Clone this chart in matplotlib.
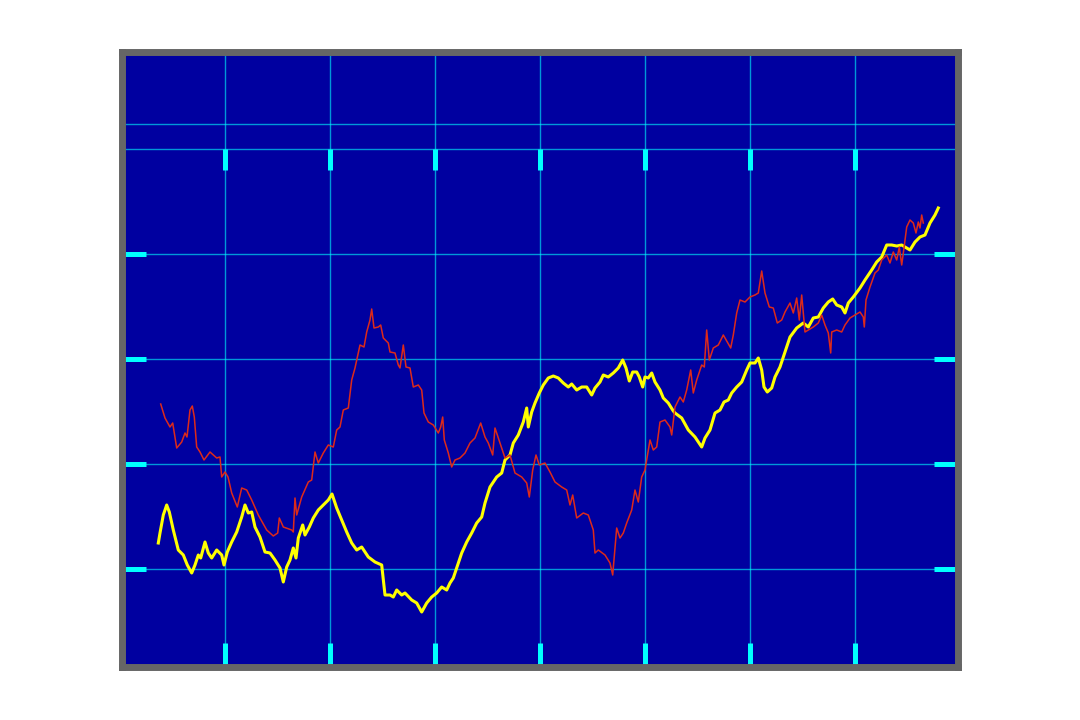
import matplotlib
matplotlib.use("Agg")
import matplotlib.pyplot as plt

# sample index / level, arbitrary units (one grid division = 105)
red_x = [40.7, 45, 50, 52.7, 56.7, 61.7, 65, 67, 70, 72.3, 74.3, 76.7, 80, 84, 90, 96.7,
         100, 101.7, 105, 108, 111.7, 117.3, 121.7, 126.7, 131.7, 138.3, 146.7, 153.3,
         157.7, 159.3, 163.3, 171.7, 173.3, 175, 176.7, 181.7, 188.3, 191.7, 195, 198.3,
         203.3, 208.3, 213.3, 216.7, 220, 223.3, 228.3, 231.7, 235, 236.7, 240, 244,
         246.7, 250, 251.7, 254, 258.3, 260.7, 263.3, 268.3, 270, 275, 278.3, 280, 283.3,
         286, 290, 293.3, 298.3, 301.7, 304, 308.3, 313.3, 318.3, 320.7, 322.7, 324.3,
         328.3, 331.7, 335, 340, 345, 350, 355, 360.7, 365, 368.3, 372.7, 375, 380, 385,
         390, 395, 401.7, 406.7, 409.3, 412.7, 416, 419.3, 425, 430, 435, 441.7, 446.7,
         450, 452.7, 456.7, 463.3, 468.3, 473.3, 475, 478.3, 485, 490, 492.7, 496.7, 500,
         503.3, 506.7, 511.7, 515, 518.3, 521.7, 525, 528.3, 530, 533.3, 536.7, 540, 545,
         550, 551.7, 555, 560, 563.3, 566.7, 570.7, 573.3, 576.7, 581.7, 584.3, 586.7,
         589.3, 593.3, 598.3, 603.3, 607.3, 610.7, 613.3, 616.7, 620, 625, 630, 635,
         638.3, 641.7, 645, 649.3, 653.3, 657.3, 661.7, 665, 670, 673.3, 676.7, 679.3,
         681.7, 685, 688.3, 693.3, 698.3, 701.7, 705, 708.3, 710.7, 711.7, 716.7, 721.7,
         725, 730, 735, 740, 743.3, 744.3, 746, 750, 755, 758.3, 761.7, 766.7, 770, 773.3,
         776.7, 779.3, 781.7, 784, 786.7, 790, 793.3, 796, 798.3, 800, 801.7, 803.3]
red_y = [165, 151, 142, 146, 121, 127, 136, 132, 159, 163, 152, 122, 117, 109, 117, 111,
         112, 92, 97, 92, 76, 62, 81, 79, 69, 54, 39, 33,
         36, 51, 42, 39, 37, 71, 54, 72, 87, 89, 117, 106,
         116, 124, 122, 139, 142, 159, 161, 189, 201, 209, 224, 222,
         237, 249, 260, 241, 242, 244, 231, 226, 217, 216, 204, 201, 224,
         202, 201, 182, 184, 179, 156, 147, 144, 136, 142, 152, 129,
         116, 102, 109, 111, 116, 126, 131, 146, 132, 126, 114, 141, 126, 111,
         114, 96, 92, 86, 72, 99, 114, 104, 106, 97, 87, 82, 79,
         64, 74, 51, 56, 54, 39, 16, 19, 14, 6, -6, 41, 31,
         36, 46, 59, 79, 67, 92, 99, 119, 129, 119, 122, 147, 149,
         142, 134, 162, 172, 167, 179, 199, 176, 189, 204, 202, 239,
         209, 221, 224, 234, 227, 221, 234, 256, 269, 267, 272, 274,
         276, 298, 276, 262, 261, 246, 249, 257, 266, 256, 271, 249,
         274, 237, 239, 242, 246, 254, 244, 236, 216, 237, 239, 237,
         244, 251, 254, 257, 252, 242, 269, 282, 296, 299, 309, 314, 306, 317,
         309, 322, 304, 321, 342, 349, 346, 336, 347, 341, 354, 346]

yellow_x = [38.3, 40, 43.3, 46.7, 49.3, 53.3, 58.3, 63.3, 67.3, 71.7, 75, 78.3, 80.7, 85,
            88.3, 91.7, 96.7, 101.7, 104, 107.3, 111.7, 116.7, 121.7, 125, 128.3, 131.7,
            135, 140, 145, 150, 155, 160, 163.3, 166.7, 170, 173.3, 176, 178.3, 182.7, 185,
            189.3, 193.3, 198.3, 203.3, 208.3, 212, 216.7, 221.7, 226.7, 231.7, 236.7,
            241.7, 248.3, 255, 261.7, 265, 270, 273.3, 276.7, 281.7, 285, 291.7, 296.7,
            301.7, 306.7, 311.7, 316.7, 321.7, 326.7, 330, 333.3, 336.7, 341.7, 346.7,
            351.7, 356.7, 361.7, 365, 370, 376.7, 381.7, 385, 390, 393.3, 398.3, 403.3,
            406.7, 408.3, 411.7, 415, 419.3, 423.3, 428.3, 433.3, 438.3, 443.3, 448.3,
            451.7, 456.7, 461.7, 466.7, 471.7, 475, 480, 483.3, 488.3, 493.3, 498.3, 502.7,
            506, 509.3, 512.7, 516.7, 519.3, 522.7, 525, 528.3, 531.7, 535, 540, 543.3,
            548.3, 553.3, 555, 561.7, 568.3, 575, 581.7, 585, 590, 595, 600, 604, 608.3,
            611.7, 616.7, 621.7, 626.7, 630, 635, 638.3, 641.7, 644, 647.3, 651.7, 655, 660,
            663.3, 666.7, 670, 676.7, 683.3, 688.3, 693.3, 698.3, 703.3, 708.3, 712.7,
            716.7, 721.7, 725, 728.3, 733.3, 740, 745, 751.7, 756.7, 761.7, 766.7, 771.7,
            776.7, 781.7, 786.7, 790, 795, 800, 805, 810, 815, 818.3]
yellow_y = [26, 36, 54, 64, 57, 39, 19, 14, 4, -4, 4, 14, 11, 27,
            16, 11, 19, 14, 4, 17, 27, 37, 52, 64, 56, 57,
            42, 32, 17, 16, 9, 1, -13, 2, 9, 21, 11, 31, 44, 34,
            42, 51, 59, 64, 69, 75, 61, 49, 37, 26, 19,
            22, 12, 7, 4, -26, -26, -28, -21, -26, -24, -31, -34,
            -43, -34, -28, -24, -18, -21, -14, -9, 1, 16, 27,
            36, 46, 52, 66, 82, 92, 96, 109, 114, 126, 134, 147,
            161, 142, 157, 166, 176, 184, 191, 193, 191, 186, 182,
            185, 179, 182, 182, 174, 181, 187, 194, 192, 196, 201, 209,
            201, 188, 197, 197, 192, 182, 192, 191, 196, 187, 179, 171,
            166, 158, 156, 151, 139, 132, 122, 131, 139, 156, 159, 167, 169,
            176, 182, 187, 199, 206, 206, 211, 199, 182, 177, 181, 192, 202,
            212, 222, 232, 241, 246, 242, 251, 252, 261, 267, 270,
            264, 262, 256, 266, 272, 281, 289, 299, 307, 312, 324, 324,
            323, 324, 321, 319, 327, 332, 334, 346, 354, 361]

x_ticks = [105, 210, 315, 420, 525, 630, 735]
y_ticks = [0, 105, 210, 315]
top_level = 420
marker_level = 445.5

bg = "#0000a0"
tick_col = "#00ffff"

fig = plt.figure(figsize=(10.8, 7.2), dpi=100)
ax = fig.add_axes([122 / 1080, 1 - 667 / 720, 835.5 / 1080, 615 / 720])
ax.set_facecolor(bg)
ax.set_xlim(2, 837.5)
ax.set_ylim(-98, 517)

ax.set_xticks(x_ticks)
ax.set_yticks(y_ticks)
ax.grid(True, color=tick_col, alpha=0.6, linewidth=1.0)
ax.set_axisbelow(True)
ax.axhline(top_level, color=tick_col, alpha=0.6, linewidth=1.0, zorder=1)
ax.axhline(marker_level, color=tick_col, alpha=0.6, linewidth=1.0, zorder=1)

ax.plot(yellow_x, yellow_y, color="#ffff00", linewidth=2.2, zorder=3)
ax.plot(red_x, red_y, color="#dd2a1a", linewidth=1.1, zorder=4)

# frame ticks start under the thick grey border, so make them a bit longer
ax.tick_params(axis="both", which="major", direction="in", length=17.6, width=3.6,
               color=tick_col, labelbottom=False, labelleft=False,
               bottom=True, top=False, left=True, right=True)

# top ticks hang from the upper grid line, not the frame
lo, hi = ax.get_ylim()
sec = ax.secondary_xaxis((top_level - lo) / (hi - lo))
sec.set_xticks(x_ticks)
sec.tick_params(direction="in", length=15, width=3.6, color=tick_col,
                labeltop=False, labelbottom=False)
for sp in sec.spines.values():
    sp.set_visible(False)

for sp in ax.spines.values():
    sp.set_color("#666666")
    sp.set_linewidth(5)

fig.savefig("out.png", dpi=100, facecolor="white")
